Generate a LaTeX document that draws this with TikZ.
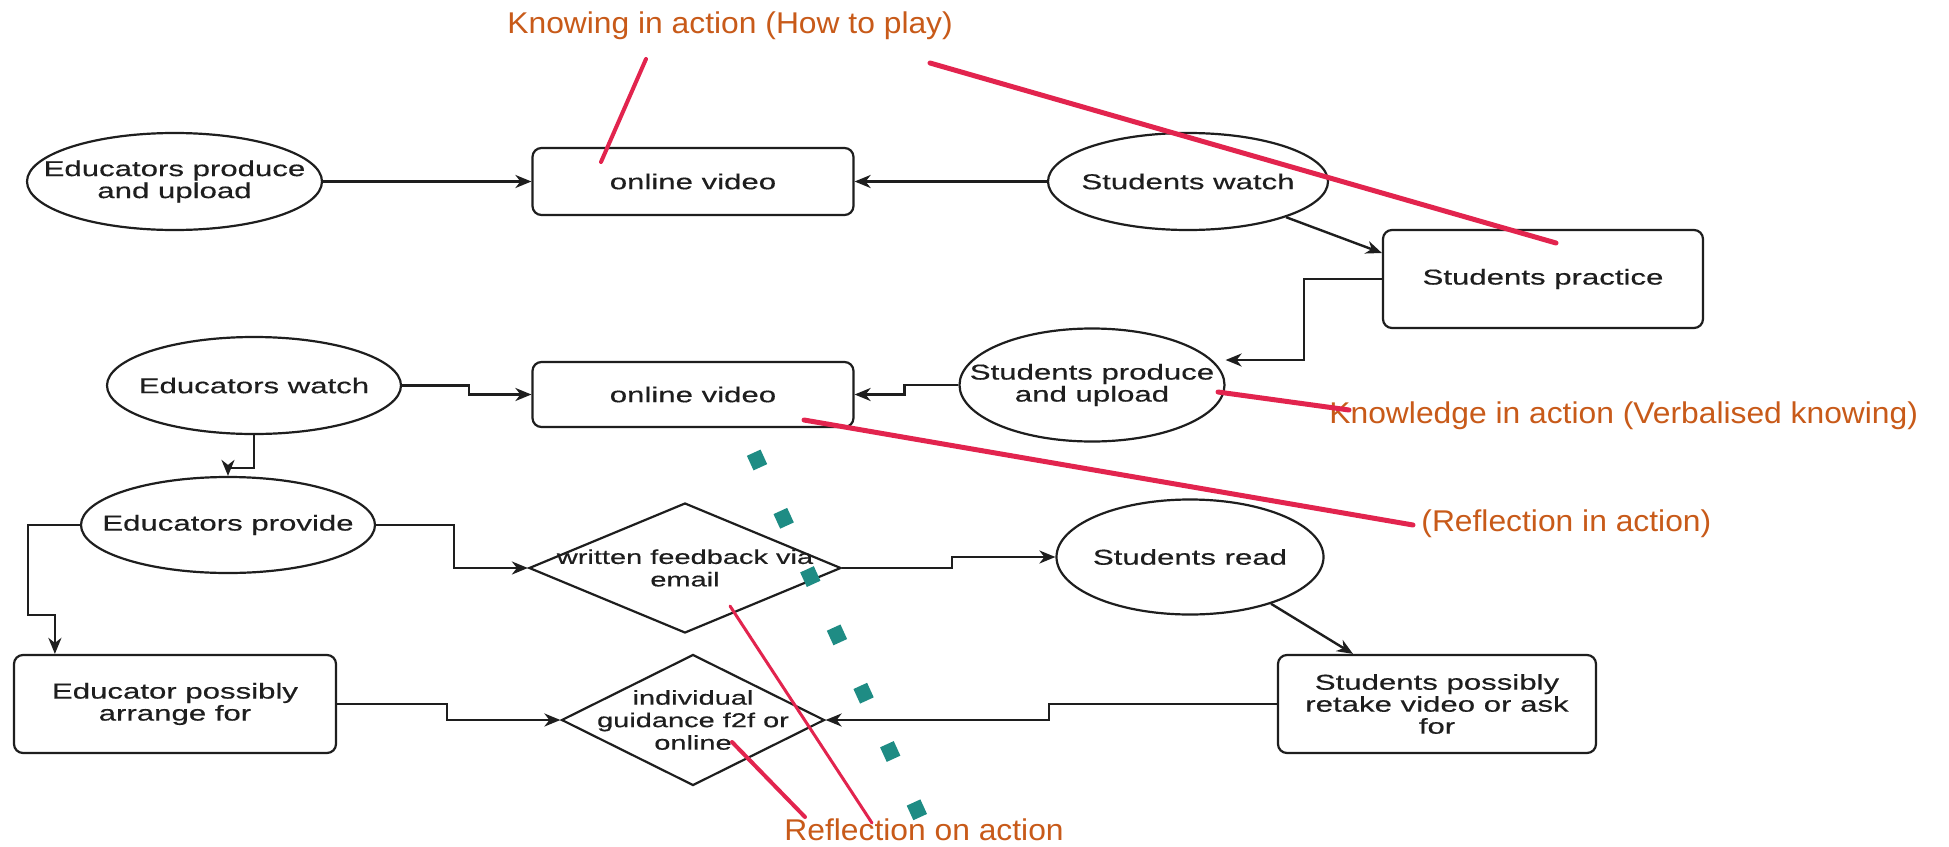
\documentclass[tikz,border=0pt]{standalone}
\usepackage{fontspec}
\setmainfont{Liberation Sans}
\newfontfamily\nodefont[FakeStretch=1.45,FakeBold=0.4]{Liberation Sans}
\newfontfamily\notefont[FakeStretch=1.06]{Liberation Sans}
\usetikzlibrary{shapes.geometric,arrows.meta,calc}
\definecolor{notecol}{RGB}{200,90,25}
\definecolor{markred}{RGB}{226,36,78}
\definecolor{tealmark}{RGB}{30,140,132}
\definecolor{ink}{RGB}{30,30,30}
\tikzset{
  base/.style={draw=ink, line width=1.1pt, fill=white, inner sep=0pt},
  ell/.style={base, ellipse},
  rbox/.style={base, rectangle, rounded corners=4.5pt, align=center,
    font=\nodefont\fontsize{10.75}{11}\selectfont, text=ink},
  dia/.style={base, diamond},
  txt/.style={align=center, font=\nodefont\fontsize{10.75}{11}\selectfont,
    text=ink, inner sep=0pt},
  dtxt/.style={txt, font=\nodefont\fontsize{10}{11.25}\selectfont},
  arr/.style={draw=ink, line width=1.2pt,
    -{Stealth[length=8pt,width=6.5pt,inset=2.5pt]}},
  note/.style={font=\notefont\fontsize{15}{18}\selectfont, text=notecol,
    inner sep=0pt, anchor=base west},
  redline/.style={draw=markred, line cap=round},
  tealdash/.style={draw=tealmark, line width=7.5pt,
    dash pattern=on 8pt off 24.05pt}
}
\begin{document}
\begin{tikzpicture}[x=0.5pt,y=-0.5pt]
\useasboundingbox (0,0) rectangle (1949,846);
\fill[white] (0,0) rectangle (1949,846);

% ---- top row: educators upload, students watch
\node[ell, minimum width=147.5pt, minimum height=48.5pt,
  label={[txt]center:Educators produce\\and upload}] (ep) at (174.5,181.5) {};
\node[rbox, minimum width=160.5pt, minimum height=33.5pt] (ov1) at (693,181.5) {online video};
\node[ell, minimum width=140pt, minimum height=48.5pt,
  label={[txt]center:Students watch}] (sw) at (1188,181.5) {};
\node[rbox, minimum width=160pt, minimum height=49pt] (sp) at (1543,279) {Students practice};

% ---- second row: students upload, educators watch
\node[ell, minimum width=132.5pt, minimum height=56.5pt,
  label={[txt]center:Students produce\\and upload}] (spu) at (1092,385) {};
\node[rbox, minimum width=160.5pt, minimum height=32.5pt] (ov2) at (693,394.5) {online video};
\node[ell, minimum width=147pt, minimum height=48.5pt,
  label={[txt]center:Educators watch}] (ew) at (254,385.5) {};

% ---- feedback
\node[ell, minimum width=147pt, minimum height=48pt,
  label={[txt]center:Educators provide}] (epr) at (228,525) {};
\node[dia, minimum width=156pt, minimum height=65pt,
  label={[dtxt]center:written feedback via\\email}] (wf) at (685,568) {};
\node[ell, minimum width=133.5pt, minimum height=57.5pt,
  label={[txt]center:Students read}] (sr) at (1190,557) {};

% ---- guidance
\node[rbox, minimum width=161pt, minimum height=49pt] (ep2) at (175,704) {Educator possibly\\arrange for};
\node[dia, minimum width=131.5pt, minimum height=65.5pt,
  label={[dtxt]center:individual\\guidance f2f or\\online}] (ig) at (693,720) {};
\node[rbox, minimum width=159pt, minimum height=49pt] (spo) at (1437,704) {Students possibly\\retake video or ask\\for};

% ---- connectors
\draw[arr] (ep.east) -- (ov1.west);
\draw[arr] (sw.west) -- (ov1.east);
\draw[arr] (sw.-20) -- ([yshift=13pt]sp.west);
\draw[arr] (sp.west) -- ++(-78,0) |- ([yshift=12.5pt]spu.east);
\draw[arr] (spu.west) -- ++(-54,0) |- (ov2.east);
\draw[arr] (ew.east) -- ++(67,0) |- (ov2.west);
\draw[arr] (ew.south) -- ++(0,33) -| (epr.north);
\draw[arr] (epr.east) -- ++(78,0) |- (wf.west);
\draw[arr] (epr.west) -- ++(-52,0) -- ++(0,90) -| ([xshift=21pt]ep2.north west);
\draw[arr] (ep2.east) -- ++(110,0) |- (ig.west);
\draw[arr] (wf.east) -- ++(110,0) |- (sr.west);
\draw[arr] (sr.-30) -- ([xshift=-42pt]spo.north);
\draw[arr] (spo.west) -- ++(-228,0) |- (ig.east);

% ---- teal dotted divider
\coordinate (ta) at (753.7,452.7);
\coordinate (tb) at (920.3,817.3);
\draw[tealdash] (ta) -- (tb);

% ---- annotations
\node[note] (n1) at (507,33.3) {Knowing in action (How to play)};
\node[note] (n2) at (1329,423.3) {Knowledge in action (Verbalised knowing)};
\node[note] (n3) at (1421,531.7) {(Reflection in action)};
\node[note] (n4) at (784,840) {Reflection on action};

\coordinate (r1a) at (646,59);   \coordinate (r1b) at (601,162);
\coordinate (r2a) at (930,63);   \coordinate (r2b) at (1556,243);
\coordinate (r3a) at (1218,392); \coordinate (r3b) at (1349,410);
\coordinate (r4a) at (804,420);  \coordinate (r4b) at (1413,525);
\coordinate (r5a) at (730,606);  \coordinate (r5b) at (872,823);
\coordinate (r6a) at (732,742);  \coordinate (r6b) at (805,817);
\draw[redline, line width=2pt] (r1a) -- (r1b);
\draw[redline, line width=2.5pt] (r2a) -- (r2b);
\draw[redline, line width=2.5pt] (r3a) -- (r3b);
\draw[redline, line width=2.5pt] (r4a) -- (r4b);
\draw[redline, line width=1.5pt] (r5a) -- (r5b);
\draw[redline, line width=2pt] (r6a) -- (r6b);
\end{tikzpicture}
\end{document}
